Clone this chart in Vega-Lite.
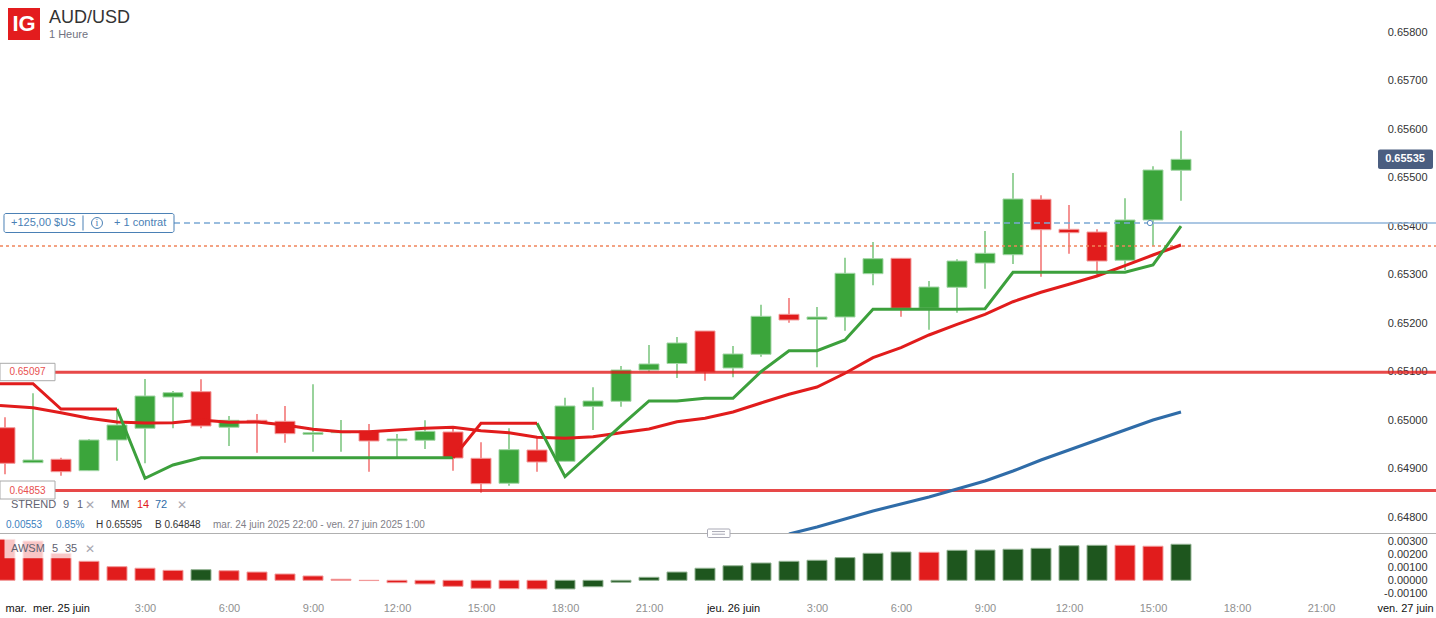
{
"$schema":"https://vega.github.io/schema/vega-lite/v6.json",
"padding":0,"spacing":0,"bounds":"flush","background":"#ffffff",
"config":{"view":{"stroke":null},"text":{"font":"Liberation Sans"},"axis":{"labelFont":"Liberation Sans","labelOverlap":false,"labelBound":false,"labelFlush":false}},
"datasets":{
"candles":[
{"t":"2025-06-24T22:00:00Z","dir":"down","open":0.649824,"high":0.650039,"low":0.648863,"close":0.649090},
{"t":"2025-06-24T23:00:00Z","dir":"up","open":0.649103,"high":0.650533,"low":0.649103,"close":0.649158},
{"t":"2025-06-25T00:00:00Z","dir":"down","open":0.649173,"high":0.649206,"low":0.648835,"close":0.648917},
{"t":"2025-06-25T01:00:00Z","dir":"up","open":0.648938,"high":0.649591,"low":0.648932,"close":0.649571},
{"t":"2025-06-25T02:00:00Z","dir":"up","open":0.649571,"high":0.650189,"low":0.649144,"close":0.649880},
{"t":"2025-06-25T03:00:00Z","dir":"up","open":0.649812,"high":0.650828,"low":0.649090,"close":0.650478},
{"t":"2025-06-25T04:00:00Z","dir":"up","open":0.650457,"high":0.650581,"low":0.649812,"close":0.650546},
{"t":"2025-06-25T05:00:00Z","dir":"down","open":0.650567,"high":0.650822,"low":0.649812,"close":0.649859},
{"t":"2025-06-25T06:00:00Z","dir":"up","open":0.649833,"high":0.650066,"low":0.649447,"close":0.649977},
{"t":"2025-06-25T07:00:00Z","dir":"down","open":0.649977,"high":0.650107,"low":0.649309,"close":0.649927},
{"t":"2025-06-25T08:00:00Z","dir":"down","open":0.649956,"high":0.650272,"low":0.649515,"close":0.649701},
{"t":"2025-06-25T09:00:00Z","dir":"up","open":0.649688,"high":0.650719,"low":0.649329,"close":0.649721},
{"t":"2025-06-25T10:00:00Z","dir":"up","open":0.649721,"high":0.649983,"low":0.649329,"close":0.649742},
{"t":"2025-06-25T11:00:00Z","dir":"down","open":0.649756,"high":0.649901,"low":0.648917,"close":0.649550},
{"t":"2025-06-25T12:00:00Z","dir":"up","open":0.649556,"high":0.649694,"low":0.649206,"close":0.649591},
{"t":"2025-06-25T13:00:00Z","dir":"up","open":0.649565,"high":0.649977,"low":0.649385,"close":0.649750},
{"t":"2025-06-25T14:00:00Z","dir":"down","open":0.649736,"high":0.649845,"low":0.648938,"close":0.649199},
{"t":"2025-06-25T15:00:00Z","dir":"down","open":0.649193,"high":0.649523,"low":0.648484,"close":0.648670},
{"t":"2025-06-25T16:00:00Z","dir":"up","open":0.648678,"high":0.649812,"low":0.648628,"close":0.649371},
{"t":"2025-06-25T17:00:00Z","dir":"down","open":0.649364,"high":0.649612,"low":0.648917,"close":0.649117},
{"t":"2025-06-25T18:00:00Z","dir":"up","open":0.649131,"high":0.650443,"low":0.649131,"close":0.650272},
{"t":"2025-06-25T19:00:00Z","dir":"up","open":0.650265,"high":0.650657,"low":0.649777,"close":0.650375},
{"t":"2025-06-25T20:00:00Z","dir":"up","open":0.650369,"high":0.651096,"low":0.650257,"close":0.651014},
{"t":"2025-06-25T21:00:00Z","dir":"up","open":0.651014,"high":0.651529,"low":0.650979,"close":0.651138},
{"t":"2025-06-25T22:00:00Z","dir":"up","open":0.651148,"high":0.651694,"low":0.650849,"close":0.651571},
{"t":"2025-06-25T23:00:00Z","dir":"down","open":0.651818,"high":0.651818,"low":0.650793,"close":0.650973},
{"t":"2025-06-26T00:00:00Z","dir":"up","open":0.651055,"high":0.651509,"low":0.650863,"close":0.651344},
{"t":"2025-06-26T01:00:00Z","dir":"up","open":0.651338,"high":0.652360,"low":0.651288,"close":0.652121},
{"t":"2025-06-26T02:00:00Z","dir":"down","open":0.652162,"high":0.652499,"low":0.651989,"close":0.652045},
{"t":"2025-06-26T03:00:00Z","dir":"up","open":0.652059,"high":0.652313,"low":0.651070,"close":0.652107},
{"t":"2025-06-26T04:00:00Z","dir":"up","open":0.652107,"high":0.653330,"low":0.651824,"close":0.653008},
{"t":"2025-06-26T05:00:00Z","dir":"up","open":0.653000,"high":0.653653,"low":0.652760,"close":0.653309},
{"t":"2025-06-26T06:00:00Z","dir":"down","open":0.653317,"high":0.653317,"low":0.652113,"close":0.652286},
{"t":"2025-06-26T07:00:00Z","dir":"up","open":0.652286,"high":0.652849,"low":0.651845,"close":0.652725},
{"t":"2025-06-26T08:00:00Z","dir":"up","open":0.652719,"high":0.653297,"low":0.652195,"close":0.653261},
{"t":"2025-06-26T09:00:00Z","dir":"up","open":0.653220,"high":0.653880,"low":0.652690,"close":0.653420},
{"t":"2025-06-26T10:00:00Z","dir":"up","open":0.653391,"high":0.655076,"low":0.653200,"close":0.654540},
{"t":"2025-06-26T11:00:00Z","dir":"down","open":0.654534,"high":0.654616,"low":0.652938,"close":0.653907},
{"t":"2025-06-26T12:00:00Z","dir":"down","open":0.653915,"high":0.654416,"low":0.653412,"close":0.653845},
{"t":"2025-06-26T13:00:00Z","dir":"down","open":0.653859,"high":0.653915,"low":0.652952,"close":0.653261},
{"t":"2025-06-26T14:00:00Z","dir":"up","open":0.653276,"high":0.654554,"low":0.653076,"close":0.654107},
{"t":"2025-06-26T15:00:00Z","dir":"up","open":0.654107,"high":0.655214,"low":0.653577,"close":0.655138},
{"t":"2025-06-26T16:00:00Z","dir":"up","open":0.655132,"high":0.655948,"low":0.654505,"close":0.655358}
],
"ma14":[
{"t":"2025-06-24T21:49:17Z","p":0.650282},{"t":"2025-06-24T23:00:00Z","p":0.650237},{"t":"2025-06-25T00:00:00Z","p":0.650134},{"t":"2025-06-25T01:00:00Z","p":0.650018},{"t":"2025-06-25T02:00:00Z","p":0.649942},{"t":"2025-06-25T03:00:00Z","p":0.649921},{"t":"2025-06-25T04:00:00Z","p":0.649927},{"t":"2025-06-25T05:00:00Z","p":0.649983},{"t":"2025-06-25T06:00:00Z","p":0.649936},{"t":"2025-06-25T07:00:00Z","p":0.649942},{"t":"2025-06-25T08:00:00Z","p":0.649880},{"t":"2025-06-25T09:00:00Z","p":0.649791},{"t":"2025-06-25T10:00:00Z","p":0.649742},{"t":"2025-06-25T11:00:00Z","p":0.649742},{"t":"2025-06-25T12:00:00Z","p":0.649777},{"t":"2025-06-25T13:00:00Z","p":0.649812},{"t":"2025-06-25T14:00:00Z","p":0.649833},{"t":"2025-06-25T15:00:00Z","p":0.649763},{"t":"2025-06-25T16:00:00Z","p":0.649721},{"t":"2025-06-25T17:00:00Z","p":0.649626},{"t":"2025-06-25T18:00:00Z","p":0.649606},{"t":"2025-06-25T19:00:00Z","p":0.649639},{"t":"2025-06-25T20:00:00Z","p":0.649721},{"t":"2025-06-25T21:00:00Z","p":0.649797},{"t":"2025-06-25T22:00:00Z","p":0.649948},{"t":"2025-06-25T23:00:00Z","p":0.650018},{"t":"2025-06-26T00:00:00Z","p":0.650148},{"t":"2025-06-26T01:00:00Z","p":0.650334},{"t":"2025-06-26T02:00:00Z","p":0.650513},{"t":"2025-06-26T03:00:00Z","p":0.650663},{"t":"2025-06-26T04:00:00Z","p":0.650946},{"t":"2025-06-26T05:00:00Z","p":0.651268},{"t":"2025-06-26T06:00:00Z","p":0.651474},{"t":"2025-06-26T07:00:00Z","p":0.651736},{"t":"2025-06-26T08:00:00Z","p":0.651956},{"t":"2025-06-26T09:00:00Z","p":0.652162},{"t":"2025-06-26T10:00:00Z","p":0.652422},{"t":"2025-06-26T11:00:00Z","p":0.652616},{"t":"2025-06-26T12:00:00Z","p":0.652781},{"t":"2025-06-26T13:00:00Z","p":0.652952},{"t":"2025-06-26T14:00:00Z","p":0.653165},{"t":"2025-06-26T15:00:00Z","p":0.653385},{"t":"2025-06-26T16:00:00Z","p":0.653591}
],
"ma72":[
{"t":"2025-06-26T02:00:00Z","p":0.647632},{"t":"2025-06-26T03:00:00Z","p":0.647777},{"t":"2025-06-26T04:00:00Z","p":0.647942},{"t":"2025-06-26T05:00:00Z","p":0.648107},{"t":"2025-06-26T06:00:00Z","p":0.648251},{"t":"2025-06-26T07:00:00Z","p":0.648395},{"t":"2025-06-26T08:00:00Z","p":0.648560},{"t":"2025-06-26T09:00:00Z","p":0.648725},{"t":"2025-06-26T10:00:00Z","p":0.648931},{"t":"2025-06-26T11:00:00Z","p":0.649158},{"t":"2025-06-26T12:00:00Z","p":0.649364},{"t":"2025-06-26T13:00:00Z","p":0.649571},{"t":"2025-06-26T14:00:00Z","p":0.649777},{"t":"2025-06-26T15:00:00Z","p":0.649983},{"t":"2025-06-26T16:00:00Z","p":0.650148}
],
"strend":[
{"seg":1,"dir":"down","t":"2025-06-24T21:49:17Z","p":0.650732},{"seg":1,"dir":"down","t":"2025-06-24T23:00:00Z","p":0.650732},{"seg":1,"dir":"down","t":"2025-06-25T00:00:00Z","p":0.650210},{"seg":1,"dir":"down","t":"2025-06-25T01:00:00Z","p":0.650210},{"seg":1,"dir":"down","t":"2025-06-25T02:00:00Z","p":0.650210},
{"seg":2,"dir":"up","t":"2025-06-25T02:00:00Z","p":0.650210},{"seg":2,"dir":"up","t":"2025-06-25T03:00:00Z","p":0.648781},{"seg":2,"dir":"up","t":"2025-06-25T04:00:00Z","p":0.649055},{"seg":2,"dir":"up","t":"2025-06-25T05:00:00Z","p":0.649206},{"seg":2,"dir":"up","t":"2025-06-25T06:00:00Z","p":0.649206},{"seg":2,"dir":"up","t":"2025-06-25T09:00:00Z","p":0.649206},{"seg":2,"dir":"up","t":"2025-06-25T12:00:00Z","p":0.649206},{"seg":2,"dir":"up","t":"2025-06-25T14:00:00Z","p":0.649206},
{"seg":3,"dir":"down","t":"2025-06-25T14:00:00Z","p":0.649206},{"seg":3,"dir":"down","t":"2025-06-25T15:00:00Z","p":0.649915},{"seg":3,"dir":"down","t":"2025-06-25T16:00:00Z","p":0.649915},{"seg":3,"dir":"down","t":"2025-06-25T17:00:00Z","p":0.649915},
{"seg":4,"dir":"up","t":"2025-06-25T17:00:00Z","p":0.649915},{"seg":4,"dir":"up","t":"2025-06-25T18:00:00Z","p":0.648814},{"seg":4,"dir":"up","t":"2025-06-25T19:00:00Z","p":0.649344},{"seg":4,"dir":"up","t":"2025-06-25T20:00:00Z","p":0.649865},{"seg":4,"dir":"up","t":"2025-06-25T21:00:00Z","p":0.650375},{"seg":4,"dir":"up","t":"2025-06-25T22:00:00Z","p":0.650375},{"seg":4,"dir":"up","t":"2025-06-25T23:00:00Z","p":0.650430},{"seg":4,"dir":"up","t":"2025-06-26T00:00:00Z","p":0.650430},{"seg":4,"dir":"up","t":"2025-06-26T01:00:00Z","p":0.650979},{"seg":4,"dir":"up","t":"2025-06-26T02:00:00Z","p":0.651412},{"seg":4,"dir":"up","t":"2025-06-26T03:00:00Z","p":0.651412},{"seg":4,"dir":"up","t":"2025-06-26T04:00:00Z","p":0.651632},{"seg":4,"dir":"up","t":"2025-06-26T05:00:00Z","p":0.652266},{"seg":4,"dir":"up","t":"2025-06-26T06:00:00Z","p":0.652266},{"seg":4,"dir":"up","t":"2025-06-26T07:00:00Z","p":0.652266},{"seg":4,"dir":"up","t":"2025-06-26T08:00:00Z","p":0.652266},{"seg":4,"dir":"up","t":"2025-06-26T09:00:00Z","p":0.652278},{"seg":4,"dir":"up","t":"2025-06-26T10:00:00Z","p":0.653028},{"seg":4,"dir":"up","t":"2025-06-26T11:00:00Z","p":0.653028},{"seg":4,"dir":"up","t":"2025-06-26T12:00:00Z","p":0.653028},{"seg":4,"dir":"up","t":"2025-06-26T13:00:00Z","p":0.653028},{"seg":4,"dir":"up","t":"2025-06-26T14:00:00Z","p":0.653028},{"seg":4,"dir":"up","t":"2025-06-26T15:00:00Z","p":0.653179},{"seg":4,"dir":"up","t":"2025-06-26T16:00:00Z","p":0.653983}
],
"awsm":[
{"t":"2025-06-24T22:00:00Z","dir":"down","v":0.00312},{"t":"2025-06-24T23:00:00Z","dir":"down","v":0.00300},{"t":"2025-06-25T00:00:00Z","dir":"down","v":0.00206},{"t":"2025-06-25T01:00:00Z","dir":"down","v":0.00145},{"t":"2025-06-25T02:00:00Z","dir":"down","v":0.00104},{"t":"2025-06-25T03:00:00Z","dir":"down","v":0.00092},{"t":"2025-06-25T04:00:00Z","dir":"down","v":0.00076},{"t":"2025-06-25T05:00:00Z","dir":"up","v":0.00081},{"t":"2025-06-25T06:00:00Z","dir":"down","v":0.00073},{"t":"2025-06-25T07:00:00Z","dir":"down","v":0.00063},{"t":"2025-06-25T08:00:00Z","dir":"down","v":0.00048},{"t":"2025-06-25T09:00:00Z","dir":"down","v":0.00033},{"t":"2025-06-25T10:00:00Z","dir":"down","v":0.00008},{"t":"2025-06-25T11:00:00Z","dir":"down","v":-0.00002},{"t":"2025-06-25T12:00:00Z","dir":"down","v":-0.00018},{"t":"2025-06-25T13:00:00Z","dir":"down","v":-0.00028},{"t":"2025-06-25T14:00:00Z","dir":"down","v":-0.00046},{"t":"2025-06-25T15:00:00Z","dir":"down","v":-0.00061},{"t":"2025-06-25T16:00:00Z","dir":"down","v":-0.00064},{"t":"2025-06-25T17:00:00Z","dir":"down","v":-0.00066},{"t":"2025-06-25T18:00:00Z","dir":"up","v":-0.00066},{"t":"2025-06-25T19:00:00Z","dir":"up","v":-0.00049},{"t":"2025-06-25T20:00:00Z","dir":"up","v":-0.00015},{"t":"2025-06-25T21:00:00Z","dir":"up","v":0.00023},{"t":"2025-06-25T22:00:00Z","dir":"up","v":0.00063},{"t":"2025-06-25T23:00:00Z","dir":"up","v":0.00092},{"t":"2025-06-26T00:00:00Z","dir":"up","v":0.00111},{"t":"2025-06-26T01:00:00Z","dir":"up","v":0.00132},{"t":"2025-06-26T02:00:00Z","dir":"up","v":0.00145},{"t":"2025-06-26T03:00:00Z","dir":"up","v":0.00153},{"t":"2025-06-26T04:00:00Z","dir":"up","v":0.00173},{"t":"2025-06-26T05:00:00Z","dir":"up","v":0.00206},{"t":"2025-06-26T06:00:00Z","dir":"up","v":0.00216},{"t":"2025-06-26T07:00:00Z","dir":"down","v":0.00214},{"t":"2025-06-26T08:00:00Z","dir":"up","v":0.00229},{"t":"2025-06-26T09:00:00Z","dir":"up","v":0.00231},{"t":"2025-06-26T10:00:00Z","dir":"up","v":0.00237},{"t":"2025-06-26T11:00:00Z","dir":"up","v":0.00244},{"t":"2025-06-26T12:00:00Z","dir":"up","v":0.00264},{"t":"2025-06-26T13:00:00Z","dir":"up","v":0.00267},{"t":"2025-06-26T14:00:00Z","dir":"down","v":0.00267},{"t":"2025-06-26T15:00:00Z","dir":"down","v":0.00260},{"t":"2025-06-26T16:00:00Z","dir":"up","v":0.00275}
]
},
"vconcat":[
{
"width":1436,"height":533,
"encoding":{
"x":{"field":"t","type":"temporal","title":null,"axis":null,"scale":{"type":"utc","nice":false,"padding":0,"domain":[1750801757143,1750986385714]}},
"y":{"field":"p","type":"quantitative","title":null,"scale":{"domain":[0.647653,0.658643],"zero":false,"nice":false},
"axis":{"orient":"right","values":[0.648,0.649,0.650,0.651,0.652,0.653,0.654,0.655,0.656,0.657,0.658],"format":".5f","domain":false,"ticks":false,"tickSize":0,"grid":false,"labelPadding":-9,"labelAlign":"right","labelBaseline":"middle","labelOffset":1,"labelFontSize":11,"labelColor":"#333333","title":null}}
},
"layer":[
{"data":{"name":"candles"},"transform":[{"filter":"datum.dir=='up'"}],"mark":{"type":"rule","strokeWidth":1.2,"stroke":"#55b55a"},"encoding":{"y":{"field":"high","type":"quantitative"},"y2":{"field":"low"}}},
{"data":{"name":"candles"},"transform":[{"filter":"datum.dir=='down'"}],"mark":{"type":"rule","strokeWidth":1.2,"stroke":"#ee4a4a"},"encoding":{"y":{"field":"high","type":"quantitative"},"y2":{"field":"low"}}},
{"data":{"name":"candles"},"transform":[{"filter":"datum.dir=='up'"}],"mark":{"type":"bar","clip":true,"size":20,"strokeWidth":1,"fill":"#3ba53b","stroke":"#a3d6a6"},"encoding":{"y":{"field":"open","type":"quantitative","stack":null},"y2":{"field":"close"}}},
{"data":{"name":"candles"},"transform":[{"filter":"datum.dir=='down'"}],"mark":{"type":"bar","clip":true,"size":20,"strokeWidth":1,"fill":"#e11c1c","stroke":"#f29a9a"},"encoding":{"y":{"field":"open","type":"quantitative","stack":null},"y2":{"field":"close"}}},
{"data":{"values":[{"t":"2025-06-24T21:49:17Z","t2":"2025-06-27T01:06:25Z","p":0.65097},{"t":"2025-06-24T21:49:17Z","t2":"2025-06-27T01:06:25Z","p":0.64853}]},"mark":{"type":"rule","clip":true,"stroke":"#e11c1c","strokeWidth":3,"opacity":0.8},"encoding":{"x2":{"field":"t2"}}},
{"data":{"values":[{"t":"2025-06-24T21:49:17Z","t2":"2025-06-27T01:06:25Z","p":0.653571}]},"mark":{"type":"rule","clip":true,"stroke":"#f0845a","strokeWidth":1.5,"strokeDash":[3,3]},"encoding":{"x2":{"field":"t2"}}},
{"data":{"values":[{"t":"2025-06-25T04:02:09Z","t2":"2025-06-26T14:53:34Z","p":0.654045}]},"mark":{"type":"rule","stroke":"#7aa8d4","strokeWidth":1.5,"strokeDash":[6,4]},"encoding":{"x2":{"field":"t2"}}},
{"data":{"values":[{"t":"2025-06-26T14:53:34Z","t2":"2025-06-27T01:06:25Z","p":0.654045}]},"mark":{"type":"rule","clip":true,"stroke":"#8fb5da","strokeWidth":1.5},"encoding":{"x2":{"field":"t2"}}},
{"data":{"name":"ma72"},"mark":{"type":"line","stroke":"#2f6ca8","strokeWidth":3,"clip":true}},
{"data":{"name":"ma14"},"mark":{"type":"line","clip":true,"stroke":"#e11c1c","strokeWidth":3}},
{"data":{"name":"strend"},"transform":[{"filter":"datum.dir=='up'"}],"mark":{"type":"line","strokeWidth":3,"stroke":"#3ca03c"},"encoding":{"detail":{"field":"seg","type":"nominal"}}},
{"data":{"name":"strend"},"transform":[{"filter":"datum.dir=='down'"}],"mark":{"type":"line","clip":true,"strokeWidth":3,"stroke":"#e11c1c"},"encoding":{"detail":{"field":"seg","type":"nominal"}}},
{"data":{"values":[{"t":"2025-06-26T14:53:34Z","p":0.654045}]},"mark":{"type":"point","filled":true,"fill":"#ffffff","stroke":"#5f8fc0","strokeWidth":1,"size":28,"opacity":1}},
{"data":{"values":[{"t":"2025-06-24T22:06:26Z","t2":"2025-06-24T23:15:00Z","p":0.658478,"p2":0.657818}]},"mark":{"type":"rect","fill":"#e31c1e"},"encoding":{"x2":{"field":"t2"},"y2":{"field":"p2"}}},
{"data":{"values":[{"t":"2025-06-24T22:40:43Z","p":0.658148,"label":"IG"}]},"mark":{"type":"text","align":"center","baseline":"middle","font":"Liberation Sans","fontWeight":"bold","fontSize":22,"fill":"#ffffff"},"encoding":{"text":{"field":"label"}}},
{"data":{"values":[{"t":"2025-06-24T23:34:17Z","p":0.658262,"label":"AUD/USD"}]},"mark":{"type":"text","align":"left","baseline":"middle","fontSize":18,"fill":"#333333"},"encoding":{"text":{"field":"label"}}},
{"data":{"values":[{"t":"2025-06-24T23:34:17Z","p":0.657925,"label":"1 Heure"}]},"mark":{"type":"text","align":"left","baseline":"middle","fontSize":11,"fill":"#6f7280"},"encoding":{"text":{"field":"label"}}},
{"data":{"values":[{"t":"2025-06-24T21:57:51Z","t2":"2025-06-25T04:02:09Z","p":0.654241,"p2":0.653849}]},"mark":{"type":"rect","fill":"#ffffff","stroke":"#4a80b5","strokeWidth":1,"cornerRadius":2},"encoding":{"x2":{"field":"t2"},"y2":{"field":"p2"}}},
{"data":{"values":[{"t":"2025-06-25T00:47:09Z","p":0.654200,"p2":0.653890}]},"mark":{"type":"rule","stroke":"#4a80b5","strokeWidth":1},"encoding":{"y2":{"field":"p2"}}},
{"data":{"values":[{"t":"2025-06-25T01:17:09Z","p":0.654045}]},"mark":{"type":"point","filled":false,"stroke":"#4a80b5","strokeWidth":1,"size":120,"opacity":1}},
{"data":{"values":[{"t":"2025-06-25T01:17:09Z","p":0.654045,"label":"i"}]},"mark":{"type":"text","align":"center","baseline":"middle","fontSize":10,"fill":"#4a80b5","font":"Liberation Serif"},"encoding":{"text":{"field":"label"}}},
{"data":{"values":[{"t":"2025-06-24T22:12:51Z","p":0.654045,"label":"+125,00 $US"},{"t":"2025-06-25T01:53:34Z","p":0.654045,"label":"+ 1 contrat"}]},"mark":{"type":"text","align":"left","baseline":"middle","fontSize":11,"fill":"#4a80b5"},"encoding":{"text":{"field":"label"}}},
{"data":{"values":[{"t":"2025-06-24T21:49:17Z","t2":"2025-06-24T23:47:09Z","p":0.651152,"p2":0.650793},{"t":"2025-06-24T21:49:17Z","t2":"2025-06-24T23:47:09Z","p":0.648725,"p2":0.648354}]},"mark":{"type":"rect","clip":true,"fill":"#ffffff","stroke":"#aaaaaa","strokeWidth":1},"encoding":{"x2":{"field":"t2"},"y2":{"field":"p2"}}},
{"data":{"values":[{"t":"2025-06-24T22:48:13Z","p":0.650973,"label":"0.65097"},{"t":"2025-06-24T22:48:13Z","p":0.648529,"label":"0.64853"}]},"mark":{"type":"text","align":"center","baseline":"middle","fontSize":10,"fill":"#e8504f"},"encoding":{"text":{"field":"label"}}},
{"data":{"values":[{"t":"2025-06-26T23:02:09Z","t2":"2025-06-27T01:00:00Z","p":0.655560,"p2":0.655158}]},"mark":{"type":"rect","fill":"#4b5e80","cornerRadius":2},"encoding":{"x2":{"field":"t2"},"y2":{"field":"p2"}}},
{"data":{"values":[{"t":"2025-06-27T00:00:00Z","p":0.655358,"label":"0.65535"}]},"mark":{"type":"text","align":"center","baseline":"middle","fontSize":11,"fontWeight":"bold","fill":"#ffffff"},"encoding":{"text":{"field":"label"}}},
{"data":{"values":[{"t":"2025-06-24T22:12:51Z","p":0.648230,"label":"STREND"},{"t":"2025-06-25T00:04:17Z","p":0.648230,"label":"9"},{"t":"2025-06-25T00:34:17Z","p":0.648230,"label":"1"},{"t":"2025-06-25T01:47:09Z","p":0.648230,"label":"MM"}]},"mark":{"type":"text","align":"left","baseline":"middle","fontSize":11,"fill":"#5f6270"},"encoding":{"text":{"field":"label"}}},
{"data":{"values":[{"t":"2025-06-25T02:42:51Z","p":0.648230,"label":"14"}]},"mark":{"type":"text","align":"left","baseline":"middle","fontSize":11,"fill":"#e11c1c"},"encoding":{"text":{"field":"label"}}},
{"data":{"values":[{"t":"2025-06-25T03:21:26Z","p":0.648230,"label":"72"}]},"mark":{"type":"text","align":"left","baseline":"middle","fontSize":11,"fill":"#2f6ca8"},"encoding":{"text":{"field":"label"}}},
{"data":{"values":[{"t":"2025-06-25T00:51:26Z","p":0.648230,"label":"✕"},{"t":"2025-06-25T04:08:34Z","p":0.648230,"label":"✕"}]},"mark":{"type":"text","align":"left","baseline":"middle","fontSize":12,"fontWeight":"bold","fill":"#a8a8b0","font":"DejaVu Sans"},"encoding":{"text":{"field":"label"}}},
{"data":{"values":[{"t":"2025-06-24T22:02:09Z","p":0.647818,"label":"0.00553"},{"t":"2025-06-24T23:49:17Z","p":0.647818,"label":"0.85%"}]},"mark":{"type":"text","align":"left","baseline":"middle","fontSize":10,"fill":"#3b7fc0"},"encoding":{"text":{"field":"label"}}},
{"data":{"values":[{"t":"2025-06-25T01:15:00Z","p":0.647818,"label":"H 0.65595"},{"t":"2025-06-25T03:21:26Z","p":0.647818,"label":"B 0.64848"}]},"mark":{"type":"text","align":"left","baseline":"middle","fontSize":10,"fill":"#333333"},"encoding":{"text":{"field":"label"}}},
{"data":{"values":[{"t":"2025-06-25T05:25:43Z","p":0.647818,"label":"mar. 24 juin 2025 22:00 - ven. 27 juin 2025 1:00"}]},"mark":{"type":"text","align":"left","baseline":"middle","fontSize":10,"fill":"#7f8088"},"encoding":{"text":{"field":"label"}}}
]
},
{
"width":1436,"height":85,
"encoding":{
"x":{"field":"t","type":"temporal","title":null,"scale":{"type":"utc","nice":false,"padding":0,"domain":[1750801757143,1750986385714]},
"axis":{"orient":"bottom","values":[
{"year":2025,"month":6,"date":24,"hours":22,"minutes":23,"utc":true},
{"year":2025,"month":6,"date":25,"hours":0,"utc":true},{"year":2025,"month":6,"date":25,"hours":3,"utc":true},{"year":2025,"month":6,"date":25,"hours":6,"utc":true},{"year":2025,"month":6,"date":25,"hours":9,"utc":true},{"year":2025,"month":6,"date":25,"hours":12,"utc":true},{"year":2025,"month":6,"date":25,"hours":15,"utc":true},{"year":2025,"month":6,"date":25,"hours":18,"utc":true},{"year":2025,"month":6,"date":25,"hours":21,"utc":true},
{"year":2025,"month":6,"date":26,"hours":0,"utc":true},{"year":2025,"month":6,"date":26,"hours":3,"utc":true},{"year":2025,"month":6,"date":26,"hours":6,"utc":true},{"year":2025,"month":6,"date":26,"hours":9,"utc":true},{"year":2025,"month":6,"date":26,"hours":12,"utc":true},{"year":2025,"month":6,"date":26,"hours":15,"utc":true},{"year":2025,"month":6,"date":26,"hours":18,"utc":true},{"year":2025,"month":6,"date":26,"hours":21,"utc":true},
{"year":2025,"month":6,"date":27,"hours":0,"utc":true}],
"labelExpr":"utcdate(datum.value)==24?'mar.':utchours(datum.value)==0?(utcdate(datum.value)==25?'mer. 25 juin':utcdate(datum.value)==26?'jeu. 26 juin':'ven. 27 juin'):utchours(datum.value)+':00'",
"labelColor":{"condition":{"test":"utcdate(datum.value)==24||utchours(datum.value)==0","value":"#111111"},"value":"#8f8f8f"},
"domain":false,"ticks":false,"tickSize":0,"grid":false,"labelPadding":-10,"labelBaseline":"middle","labelFontSize":11,"labelAngle":0}},
"y":{"field":"v","type":"quantitative","title":null,"scale":{"domain":[-0.002878,0.003611],"zero":false,"nice":false},
"axis":{"orient":"right","values":[-0.001,0,0.001,0.002,0.003],"labelExpr":"(datum.value<0?'-':'')+format(abs(datum.value),'.5f')","domain":false,"ticks":false,"tickSize":0,"grid":false,"labelPadding":-9,"labelAlign":"right","labelBaseline":"middle","labelFontSize":11,"labelColor":"#333333","title":null}}
},
"layer":[
{"data":{"name":"awsm"},"transform":[{"filter":"datum.dir=='down'"}],"mark":{"type":"bar","clip":true,"size":20,"strokeWidth":1,"fill":"#e11c1c","stroke":"#f29a9a"},"encoding":{"y":{"field":"v","type":"quantitative","stack":null},"y2":{"datum":0}}},
{"data":{"name":"awsm"},"transform":[{"filter":"datum.dir=='up'"}],"mark":{"type":"bar","size":20,"strokeWidth":1,"fill":"#1e561e","stroke":"#93b393"},"encoding":{"y":{"field":"v","type":"quantitative","stack":null},"y2":{"datum":0}}},
{"data":{"values":[{"t":"2025-06-24T21:58:56Z","t2":"2025-06-25T00:23:34Z","v":0.00323,"v2":0.00168}]},"mark":{"type":"rect","fill":"#ffffff","opacity":0.75},"encoding":{"x2":{"field":"t2"},"y2":{"field":"v2"}}},
{"data":{"values":[{"t":"2025-06-24T21:49:17Z","t2":"2025-06-27T01:06:25Z","v":0.00359}]},"mark":{"type":"rule","clip":true,"stroke":"#b0b0b0","strokeWidth":1.5},"encoding":{"x2":{"field":"t2"}}},
{"data":{"values":[{"t":"2025-06-25T23:05:21Z","t2":"2025-06-25T23:53:34Z","v":0.003916,"v2":0.003267}]},"mark":{"type":"rect","fill":"#ffffff","stroke":"#a9a9b5","strokeWidth":1,"cornerRadius":1},"encoding":{"x2":{"field":"t2"},"y2":{"field":"v2"}}},
{"data":{"values":[{"t":"2025-06-25T23:15:00Z","t2":"2025-06-25T23:42:51Z","v":0.00372},{"t":"2025-06-25T23:15:00Z","t2":"2025-06-25T23:42:51Z","v":0.00352}]},"mark":{"type":"rule","stroke":"#a9a9b5","strokeWidth":1},"encoding":{"x2":{"field":"t2"}}},
{"data":{"values":[{"t":"2025-06-24T22:12:51Z","v":0.002389,"label":"AWSM"},{"t":"2025-06-24T23:40:43Z","v":0.002389,"label":"5"},{"t":"2025-06-25T00:08:34Z","v":0.002389,"label":"35"}]},"mark":{"type":"text","align":"left","baseline":"middle","fontSize":11,"fill":"#5f6270"},"encoding":{"text":{"field":"label"}}},
{"data":{"values":[{"t":"2025-06-25T00:51:26Z","v":0.002389,"label":"✕"}]},"mark":{"type":"text","align":"left","baseline":"middle","fontSize":12,"fontWeight":"bold","fill":"#a8a8b0","font":"DejaVu Sans"},"encoding":{"text":{"field":"label"}}}
]
}
]
}
